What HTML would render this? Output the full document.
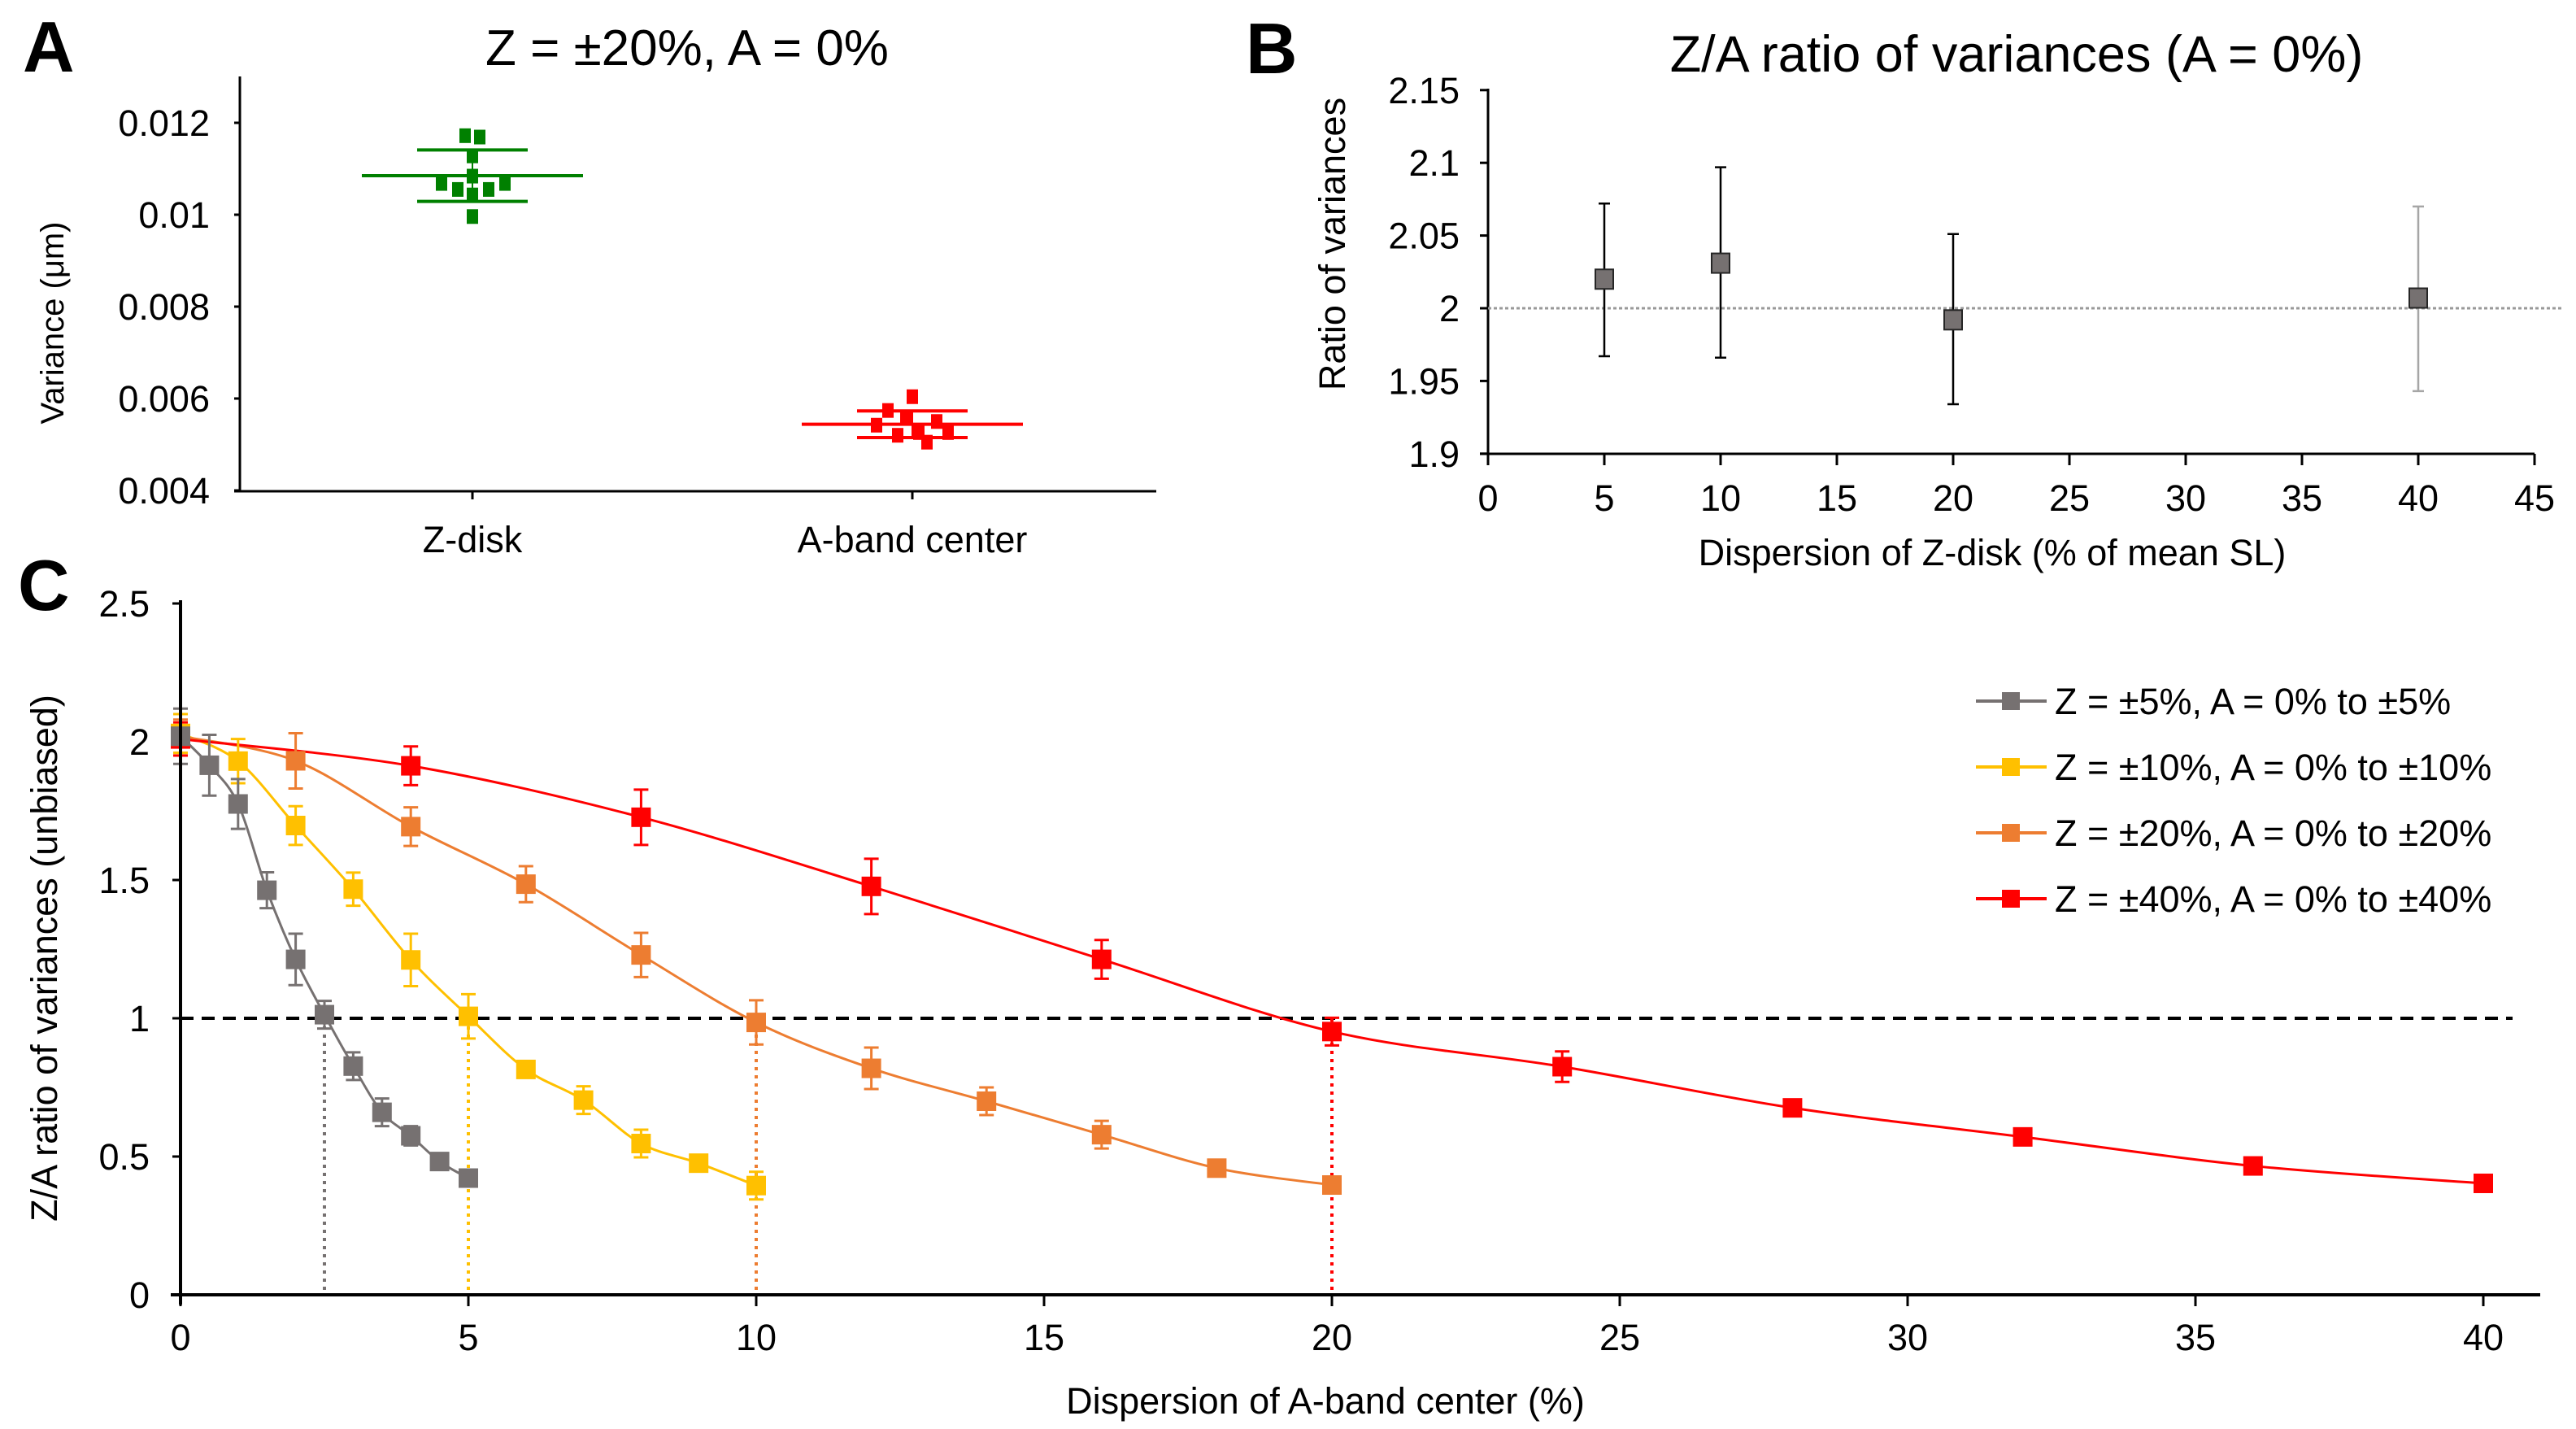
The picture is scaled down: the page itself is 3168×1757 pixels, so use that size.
<!DOCTYPE html>
<html><head><meta charset="utf-8">
<style>
html,body{margin:0;padding:0;background:#fff;}
svg{display:block;font-family:"Liberation Sans",Arial,sans-serif;}
</style></head>
<body>
<svg id="fig" width="3168" height="1757" viewBox="0 0 3168 1757" xmlns="http://www.w3.org/2000/svg">
<g id="pa"></g>
<g id="pb"></g>
<g id="pc"></g>
</svg>
<script>
// ---------- Panel A data ----------
const aCategories = ["Z-disk", "A-band center"];
const aZdisk = [0.01169, 0.01172, 0.01128, 0.01084, 0.01068, 0.01068, 0.01055, 0.01055, 0.01043, 0.00996];
const aAband = [0.00604, 0.00574, 0.00558, 0.00550, 0.00542, 0.00526, 0.00526, 0.00520, 0.00505];
const aMeans = [0.01085, 0.00544];
const aSD = [0.00056, 0.00029];
const aYTicks = [0.004, 0.006, 0.008, 0.010, 0.012];
const aYTickLabels = ["0.004", "0.006", "0.008", "0.01", "0.012"];
// ---------- Panel B data ----------
const bX = [5, 10, 20, 40];
const bY = [2.020, 2.031, 1.992, 2.007];
const bErrHi = [2.072, 2.097, 2.051, 2.070];
const bErrLo = [1.967, 1.966, 1.934, 1.943];
const bXTicks = [0, 5, 10, 15, 20, 25, 30, 35, 40, 45];
const bYTicks = [1.9, 1.95, 2, 2.05, 2.1, 2.15];
const bYTickLabels = ["1.9", "1.95", "2", "2.05", "2.1", "2.15"];
// ---------- Panel C data ----------
const cX5 = [0, 0.5, 1, 1.5, 2, 2.5, 3, 3.5, 4, 4.5, 5];
const cY5 = [2.02, 1.915, 1.775, 1.463, 1.213, 1.013, 0.827, 0.66, 0.575, 0.482, 0.422];
const cE5 = [0.1, 0.11, 0.09, 0.065, 0.093, 0.05, 0.05, 0.05, 0.035, 0.02, 0.01];
const cX10 = [0, 1, 2, 3, 4, 5, 6, 7, 8, 9, 10];
const cY10 = [2.03, 1.93, 1.697, 1.467, 1.211, 1.007, 0.815, 0.704, 0.547, 0.476, 0.395];
const cE10 = [0.07, 0.08, 0.07, 0.06, 0.095, 0.08, 0.02, 0.05, 0.05, 0.02, 0.05];
const cX20 = [0, 2, 4, 6, 8, 10, 12, 14, 16, 18, 20];
const cY20 = [2.02, 1.931, 1.693, 1.485, 1.229, 0.985, 0.819, 0.70, 0.579, 0.458, 0.397];
const cE20 = [0.06, 0.1, 0.07, 0.065, 0.08, 0.08, 0.075, 0.05, 0.05, 0.02, 0.03];
const cX40 = [0, 4, 8, 12, 16, 20, 24, 28, 32, 36, 40];
const cY40 = [2.01, 1.913, 1.727, 1.477, 1.213, 0.952, 0.825, 0.676, 0.571, 0.466, 0.403];
const cE40 = [0.06, 0.07, 0.1, 0.1, 0.07, 0.05, 0.055, 0.03, 0.03, 0.02, 0.03];
const cCrossX = [2.5, 5, 10, 20];
const cXTicks = [0, 5, 10, 15, 20, 25, 30, 35, 40];
const cYTicks = [0, 0.5, 1, 1.5, 2, 2.5];
const cYTickLabels = ["0", "0.5", "1", "1.5", "2", "2.5"];
const cLegend = ["Z = ±5%, A = 0% to ±5%", "Z = ±10%, A = 0% to ±10%", "Z = ±20%, A = 0% to ±20%", "Z = ±40%, A = 0% to ±40%"];

const NS = "http://www.w3.org/2000/svg";
const FS = 45;
function mk(parent, tag, attrs, txt){
  const e = document.createElementNS(NS, tag);
  for (const k in attrs) e.setAttribute(k, attrs[k]);
  if (txt !== undefined) e.textContent = txt;
  parent.appendChild(e);
  return e;
}

// ================= Panel A =================
(function(){
  const g = document.getElementById('pa');
  const y = v => 603 - (v - 0.004) / 0.002 * 113;
  const xc = [581, 1122];
  let t;
  t = mk(g,'text',{x:28,y:88,'font-size':88,'font-weight':'bold'},'A');
   
  t = mk(g,'text',{x:845,y:80,'font-size':62,'text-anchor':'middle'},'Z = ±20%, A = 0%');
   
  t = mk(g,'text',{x:0,y:0,'font-size':40,'text-anchor':'middle',transform:'translate(78,397) rotate(-90)'},'Variance (μm)');
   
  let l = mk(g,'line',{x1:295,y1:94,x2:295,y2:605,stroke:'#000','stroke-width':3});
   
  l = mk(g,'line',{x1:288,y1:604,x2:1422,y2:604,stroke:'#000','stroke-width':3});
   
  aYTicks.forEach((v,i)=>{
    const tk = mk(g,'line',{x1:288,y1:y(v),x2:295,y2:y(v),stroke:'#000','stroke-width':3});
     
    const tl = mk(g,'text',{x:258,y:y(v)+16,'font-size':FS,'text-anchor':'end'},aYTickLabels[i]);
     
  });
  aCategories.forEach((c,i)=>{
    const tk = mk(g,'line',{x1:xc[i],y1:604,x2:xc[i],y2:614,stroke:'#000','stroke-width':3});
     
    const tl = mk(g,'text',{x:xc[i],y:679,'font-size':FS,'text-anchor':'middle'},c);
     
  });
  const series = [aZdisk, aAband];
  const cols = ['#008000', '#ff0000'];
  series.forEach((vals,i)=>{
    const col = cols[i];
    const m = mk(g,'line',{x1:xc[i]-136,y1:y(aMeans[i]),x2:xc[i]+136,y2:y(aMeans[i]),stroke:col,'stroke-width':4});
     
    const hi = aMeans[i]+aSD[i], lo = aMeans[i]-aSD[i];
    const s1 = mk(g,'line',{x1:xc[i]-68,y1:y(hi),x2:xc[i]+68,y2:y(hi),stroke:col,'stroke-width':4});
     
    const s2 = mk(g,'line',{x1:xc[i]-68,y1:y(lo),x2:xc[i]+68,y2:y(lo),stroke:col,'stroke-width':4});
     
    const s3 = mk(g,'line',{x1:xc[i],y1:y(hi),x2:xc[i],y2:y(lo),stroke:col,'stroke-width':2});
     
    const sorted = vals.map((v,k)=>[v,k]).sort((a,b)=>b[0]-a[0]);
    const pattern = [-9, 9, 0, 0, -38, 40, -18, 20, 0, 0];
    const pattern2 = [0, -30, -8, 30, -44, 8, 44, -18, 18];
    sorted.forEach((p,r)=>{
      const dx = (i===0 ? pattern : pattern2)[r] || 0;
      const pt = mk(g,'rect',{x:xc[i]+dx-7,y:y(p[0])-9,width:14,height:18,fill:col});
       
    });
  });
})();

// ================= Panel B =================
(function(){
  const g = document.getElementById('pb');
  const x = v => 1830 + v / 5 * 143;
  const y = v => 379 - (v - 2) / 0.05 * 89.4;
  let t;
  t = mk(g,'text',{x:1532,y:90,'font-size':88,'font-weight':'bold'},'B');
   
  t = mk(g,'text',{x:2480,y:88,'font-size':63,'text-anchor':'middle'},'Z/A ratio of variances (A = 0%)');
   
  t = mk(g,'text',{x:0,y:0,'font-size':FS,'text-anchor':'middle',transform:'translate(1654,300) rotate(-90)'},'Ratio of variances');
   
  t = mk(g,'text',{x:2450,y:695,'font-size':FS,'text-anchor':'middle'},'Dispersion of Z-disk (% of mean SL)');
   
  let l = mk(g,'line',{x1:1830,y1:109,x2:1830,y2:560,stroke:'#000','stroke-width':3});
   
  l = mk(g,'line',{x1:1820,y1:558,x2:3117,y2:558,stroke:'#000','stroke-width':3});
   
  l = mk(g,'line',{x1:1830,y1:y(2),x2:3150,y2:y(2),stroke:'#999','stroke-width':3,'stroke-dasharray':'4,3'});
   
  bYTicks.forEach((v,i)=>{
    const tk = mk(g,'line',{x1:1820,y1:y(v),x2:1830,y2:y(v),stroke:'#000','stroke-width':3});
     
    const tl = mk(g,'text',{x:1795,y:y(v)+16,'font-size':FS,'text-anchor':'end'},bYTickLabels[i]);
     
  });
  bXTicks.forEach(v=>{
    const tk = mk(g,'line',{x1:x(v),y1:558,x2:x(v),y2:572,stroke:'#000','stroke-width':3});
     
    const tl = mk(g,'text',{x:x(v),y:628,'font-size':FS,'text-anchor':'middle'},String(v));
     
  });
  bX.forEach((v,i)=>{
    const col = i===3 ? '#a6a6a6' : '#000';
    const e = mk(g,'path',{d:`M${x(v)},${y(bErrHi[i])}V${y(bErrLo[i])}M${x(v)-7},${y(bErrHi[i])}H${x(v)+7}M${x(v)-7},${y(bErrLo[i])}H${x(v)+7}`,stroke:col,'stroke-width':2.5,fill:'none'});
     
    const m = mk(g,'rect',{x:x(v)-11,y:y(bY[i])-12,width:22,height:24,fill:'#767171',stroke:'#262626','stroke-width':2});
     
  });
})();

// ================= Panel C =================
(function(){
  const g = document.getElementById('pc');
  const x = v => 222 + v * 70.8;
  const y = v => 1592 - v / 0.5 * 170;
  let t;
  t = mk(g,'text',{x:22,y:750,'font-size':88,'font-weight':'bold'},'C');
   
  t = mk(g,'text',{x:0,y:0,'font-size':FS,'text-anchor':'middle',transform:'translate(70,1178) rotate(-90)'},'Z/A ratio of variances (unbiased)');
   
  t = mk(g,'text',{x:1630,y:1738,'font-size':FS,'text-anchor':'middle'},'Dispersion of A-band center (%)');
   
  cYTicks.forEach((v,i)=>{
    const tk = mk(g,'line',{x1:212,y1:y(v),x2:222,y2:y(v),stroke:'#000','stroke-width':3});
     
    const tl = mk(g,'text',{x:184,y:y(v)+16,'font-size':FS,'text-anchor':'end'},cYTickLabels[i]);
     
  });
  cXTicks.forEach(v=>{
    const tk = mk(g,'line',{x1:x(v),y1:1592,x2:x(v),y2:1606,stroke:'#000','stroke-width':3});
     
    const tl = mk(g,'text',{x:x(v),y:1660,'font-size':FS,'text-anchor':'middle'},String(v));
     
  });
  let l = mk(g,'line',{x1:222,y1:y(1),x2:3090,y2:y(1),stroke:'#000','stroke-width':4,'stroke-dasharray':'16,10'});
   
  const cols = ['#767171','#ffc000','#ed7d31','#ff0000'];
  cCrossX.forEach((v,i)=>{
    const d = mk(g,'line',{x1:x(v),y1:y(1),x2:x(v),y2:1590,stroke:cols[i],'stroke-width':4,'stroke-dasharray':'4,6'});
     
  });
  const XS = [cX5,cX10,cX20,cX40], YS=[cY5,cY10,cY20,cY40], ES=[cE5,cE10,cE20,cE40];
  function smooth(pts){
    let d = `M${pts[0][0]},${pts[0][1]}`;
    for (let i=0;i<pts.length-1;i++){
      const p0=pts[Math.max(0,i-1)],p1=pts[i],p2=pts[i+1],p3=pts[Math.min(pts.length-1,i+2)];
      const k=1/6;
      d += `C${p1[0]+(p2[0]-p0[0])*k},${p1[1]+(p2[1]-p0[1])*k} ${p2[0]-(p3[0]-p1[0])*k},${p2[1]-(p3[1]-p1[1])*k} ${p2[0]},${p2[1]}`;
    }
    return d;
  }
  for (let s=0;s<4;s++){
    const pts = XS[s].map((v,k)=>[x(v), y(YS[s][k])]);
    const ln = mk(g,'path',{d:smooth(pts),fill:'none',stroke:cols[s],'stroke-width':3});
     
  }
  for (let s=3;s>=0;s--){
    XS[s].forEach((v,k)=>{
      const cx=x(v), hi=y(YS[s][k]+ES[s][k]), lo=y(YS[s][k]-ES[s][k]);
      const e = mk(g,'path',{d:`M${cx},${hi}V${lo}M${cx-9},${hi}H${cx+9}M${cx-9},${lo}H${cx+9}`,stroke:cols[s],'stroke-width':3,fill:'none'});
       
      const m = mk(g,'rect',{x:cx-12,y:y(YS[s][k])-12,width:24,height:24,fill:cols[s]});
       
    });
  }
  l = mk(g,'line',{x1:222,y1:738,x2:222,y2:1604,stroke:'#000','stroke-width':4});
   
  l = mk(g,'line',{x1:210,y1:1592,x2:3124,y2:1592,stroke:'#000','stroke-width':4});
   
  const rows = [862, 943, 1024, 1105];
  cLegend.forEach((txt,i)=>{
    const le = mk(g,'g',{});
     
    mk(le,'line',{x1:2430,y1:rows[i],x2:2517,y2:rows[i],stroke:cols[i],'stroke-width':4});
    mk(le,'rect',{x:2462,y:rows[i]-11,width:22,height:22,fill:cols[i]});
    mk(le,'text',{x:2527,y:rows[i]+16,'font-size':FS},txt);
  });
})();
</script>
</body></html>
